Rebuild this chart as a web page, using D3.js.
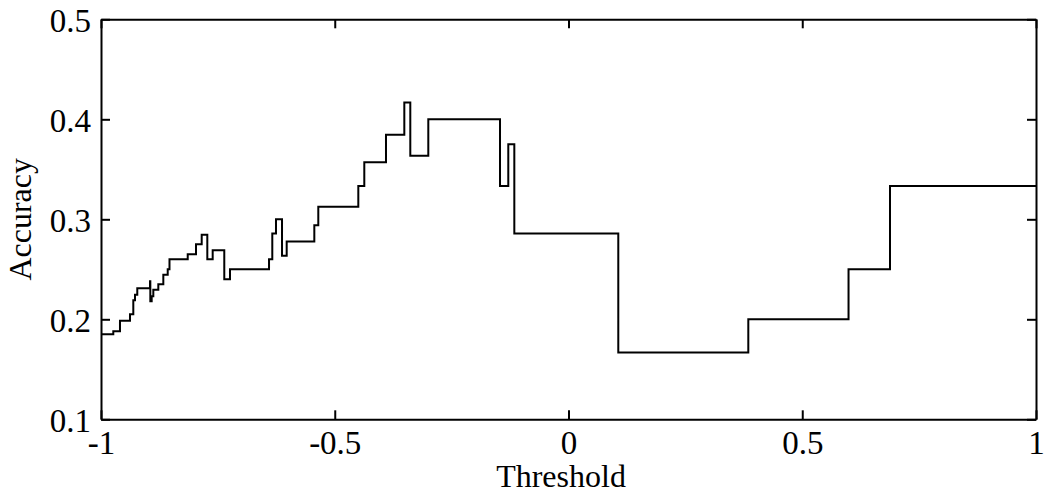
<!DOCTYPE html>
<html>
<head>
<meta charset="utf-8">
<script src="https://cdn.jsdelivr.net/npm/d3@7"></script>
<style>
  html, body { margin: 0; padding: 0; background: #fff; }
  svg { display: block; }
  text { font-family: "Liberation Serif", "Times New Roman", serif; fill: #000; }
</style>
</head>
<body>
<div id="chart"></div>
<script>
// Threshold at which each step begins, and the accuracy from that threshold on
const thresholds = [-1.0, -0.9737, -0.9594, -0.938, -0.9309, -0.9273, -0.9224, -0.8952, -0.8945,
  -0.8916, -0.8881, -0.8774, -0.8667, -0.8573, -0.8535, -0.8145, -0.7968, -0.7846, -0.7726,
  -0.7611, -0.7363, -0.7241, -0.6406, -0.6336, -0.6257, -0.6128, -0.6028, -0.5437, -0.5352,
  -0.4496, -0.4368, -0.3904, -0.3512, -0.3384, -0.2999, -0.1465, -0.1288, -0.1159, 0.1065,
  0.3846, 0.599, 0.6877, 1.0];
const accuracy = [0.185, 0.188, 0.1985, 0.205, 0.219, 0.2245, 0.231, 0.238, 0.218,
  0.223, 0.2295, 0.235, 0.2445, 0.25, 0.26, 0.265, 0.275, 0.2845, 0.26,
  0.269, 0.24, 0.25, 0.26, 0.2857, 0.3, 0.2635, 0.2778, 0.2941, 0.3125,
  0.3333, 0.3571, 0.3846, 0.4167, 0.3636, 0.4, 0.3333, 0.375, 0.2857, 0.1667,
  0.2, 0.25, 0.3333, 0.3333];
const xTicks = [-1, -0.5, 0, 0.5, 1];
const xTickLabels = ["-1", "-0.5", "0", "0.5", "1"];
const yTicks = [0.1, 0.2, 0.3, 0.4, 0.5];
const yTickLabels = ["0.1", "0.2", "0.3", "0.4", "0.5"];
const xLabel = "Threshold";
const yLabel = "Accuracy";

(function () {
const W = 1044, H = 495;
const pL = 101, pR = 1036, pT = 19.3, pB = 419.3;
const tickFont = 33, labelFont = 32;

const svg = d3.select("#chart").append("svg").attr("width", W).attr("height", H);

const x = d3.scaleLinear().domain([-1, 1]).range([pL, pR]);
const y = d3.scaleLinear().domain([0.1, 0.5]).range([pB, pT]);

const data = thresholds.map((t, i) => ({ t, a: accuracy[i] }));

// data line
svg.append("path")
  .datum(data)
  .attr("fill", "none")
  .attr("stroke", "#000")
  .attr("stroke-width", 2)
  .attr("stroke-linejoin", "miter")
  .attr("d", d3.line().x(d => x(d.t)).y(d => y(d.a)).curve(d3.curveStepAfter));

// axes with inward ticks (box style)
const tickLen = 9;
const axB = svg.append("g").attr("transform", `translate(0,${pB})`)
  .call(d3.axisBottom(x).tickValues(xTicks).tickSizeInner(-tickLen).tickSizeOuter(0).tickFormat((d, i) => xTickLabels[i]));
const axT = svg.append("g").attr("transform", `translate(0,${pT})`)
  .call(d3.axisTop(x).tickValues(xTicks).tickSizeInner(-tickLen).tickSizeOuter(0).tickFormat(""));
const axL = svg.append("g").attr("transform", `translate(${pL},0)`)
  .call(d3.axisLeft(y).tickValues(yTicks).tickSizeInner(-tickLen).tickSizeOuter(0).tickFormat((d, i) => yTickLabels[i]));
const axR = svg.append("g").attr("transform", `translate(${pR},0)`)
  .call(d3.axisRight(y).tickValues(yTicks).tickSizeInner(-tickLen).tickSizeOuter(0).tickFormat(""));

[axB, axT, axL, axR].forEach(g => {
  g.attr("font-family", "Liberation Serif");
  g.selectAll(".domain").attr("stroke", "#000").attr("stroke-width", 2);
  g.selectAll(".tick line").attr("stroke", "#000").attr("stroke-width", 2);
});

axB.selectAll(".tick text")
  .attr("font-size", tickFont)
  .attr("y", 35).attr("dy", 0);
axL.selectAll(".tick text")
  .attr("font-size", tickFont)
  .attr("x", -10).attr("dy", 0).attr("y", 12);

svg.append("text")
  .attr("x", 561).attr("y", 487)
  .attr("text-anchor", "middle")
  .attr("font-size", labelFont)
  .text(xLabel);

svg.append("text")
  .attr("transform", `translate(31,${(pT + pB) / 2}) rotate(-90)`)
  .attr("text-anchor", "middle")
  .attr("font-size", labelFont)
  .text(yLabel);
})();
</script>
</body>
</html>
